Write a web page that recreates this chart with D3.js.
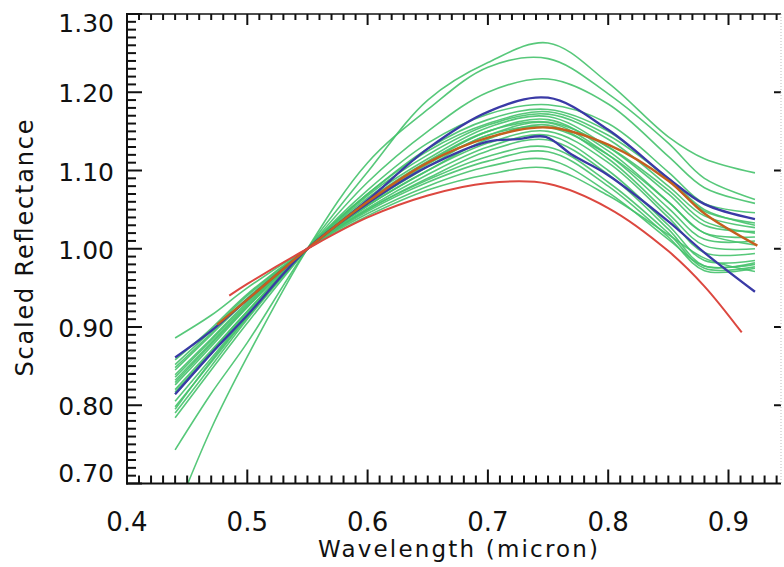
<!DOCTYPE html>
<html><head><meta charset="utf-8">
<script src="https://cdn.jsdelivr.net/npm/d3@7"></script>
<style>html,body{margin:0;padding:0;background:#fff;} svg{display:block;}</style>
</head><body><svg id="chart" width="784" height="567"></svg>
<script>
// ---------- data ----------
const WAVELENGTHS = [0.44, 0.47, 0.50, 0.55, 0.60, 0.65, 0.70, 0.75, 0.80, 0.85, 0.88, 0.922];

const GREEN_CURVES = [
  [0.743, 0.815, 0.880, 1.0, 1.098, 1.190, 1.238, 1.263, 1.212, 1.143, 1.115, 1.097],
  [0.660, 0.770, 0.862, 1.0, 1.110, 1.178, 1.232, 1.243, 1.198, 1.135, 1.090, 1.063],
  [0.784, 0.845, 0.905, 1.0, 1.085, 1.150, 1.200, 1.217, 1.185, 1.118, 1.078, 1.058],
  [0.790, 0.850, 0.910, 1.0, 1.075, 1.135, 1.172, 1.184, 1.160, 1.098, 1.058, 1.046],
  [0.798, 0.855, 0.912, 1.0, 1.070, 1.128, 1.165, 1.178, 1.150, 1.088, 1.048, 1.033],
  [0.805, 0.860, 0.915, 1.0, 1.068, 1.120, 1.158, 1.172, 1.140, 1.080, 1.042, 1.027],
  [0.814, 0.866, 0.918, 1.0, 1.065, 1.115, 1.155, 1.169, 1.130, 1.070, 1.030, 1.022],
  [0.820, 0.870, 0.920, 1.0, 1.060, 1.110, 1.150, 1.165, 1.125, 1.060, 1.020, 1.015],
  [0.826, 0.875, 0.925, 1.0, 1.058, 1.108, 1.145, 1.161, 1.120, 1.052, 1.012, 1.010],
  [0.832, 0.880, 0.928, 1.0, 1.055, 1.100, 1.140, 1.158, 1.115, 1.045, 1.004, 1.000],
  [0.836, 0.883, 0.930, 1.0, 1.055, 1.100, 1.135, 1.150, 1.110, 1.040, 0.995, 0.994],
  [0.839, 0.885, 0.932, 1.0, 1.052, 1.095, 1.130, 1.145, 1.100, 1.030, 0.985, 0.985],
  [0.845, 0.890, 0.935, 1.0, 1.050, 1.090, 1.125, 1.139, 1.095, 1.025, 0.978, 0.982],
  [0.848, 0.892, 0.937, 1.0, 1.050, 1.088, 1.118, 1.130, 1.085, 1.020, 0.975, 0.977],
  [0.852, 0.895, 0.940, 1.0, 1.048, 1.085, 1.112, 1.124, 1.080, 1.015, 0.972, 0.975],
  [0.858, 0.898, 0.942, 1.0, 1.045, 1.080, 1.105, 1.114, 1.072, 1.012, 0.978, 0.980],
  [0.886, 0.915, 0.950, 1.0, 1.042, 1.075, 1.095, 1.103, 1.068, 1.018, 0.988, 0.971],
  [0.817, 0.868, 0.920, 1.0, 1.062, 1.112, 1.150, 1.162, 1.130, 1.075, 1.035, 1.020],
  [0.829, 0.878, 0.926, 1.0, 1.057, 1.105, 1.145, 1.155, 1.120, 1.060, 1.020, 1.005],
  [0.795, 0.857, 0.913, 1.0, 1.070, 1.125, 1.160, 1.175, 1.145, 1.090, 1.050, 1.030]
];

const BLUE_UPPER = [0.861, 0.895, 0.935, 1.0, 1.062, 1.128, 1.175, 1.193, 1.152, 1.090, 1.057, 1.038];
const BLUE_LOWER_WAVELENGTHS = [0.44, 0.47, 0.50, 0.55, 0.60, 0.65, 0.70, 0.725, 0.748, 0.77, 0.80, 0.85, 0.88, 0.922];
const BLUE_LOWER             = [0.814, 0.866, 0.915, 1.0, 1.058, 1.105, 1.137, 1.140, 1.143, 1.120, 1.094, 1.035, 0.995, 0.945];

const ORANGE_WAVELENGTHS = [0.475, 0.50, 0.55, 0.60, 0.65, 0.70, 0.75, 0.80, 0.85, 0.88, 0.924];
const ORANGE_CURVE       = [0.903, 0.935, 1.0, 1.060, 1.110, 1.142, 1.155, 1.133, 1.087, 1.045, 1.004];

const RED_WAVELENGTHS = [0.485, 0.50, 0.55, 0.60, 0.65, 0.70, 0.75, 0.80, 0.85, 0.88, 0.911];
const RED_CURVE       = [0.940, 0.955, 1.0, 1.040, 1.068, 1.084, 1.083, 1.052, 0.997, 0.952, 0.893];

const X_TICKS = [0.4, 0.5, 0.6, 0.7, 0.8, 0.9];
const X_TICK_LABELS = ["0.4", "0.5", "0.6", "0.7", "0.8", "0.9"];
const Y_TICKS = [0.7, 0.8, 0.9, 1.0, 1.1, 1.2, 1.3];
const Y_TICK_LABELS = ["0.70", "0.80", "0.90", "1.00", "1.10", "1.20", "1.30"];
const X_TITLE = "Wavelength (micron)";
const Y_TITLE = "Scaled Reflectance";

// ---------- layout ----------
const L = 127, R = 781, T = 14, B = 483.5;
const svg = d3.select("#chart");
const x = d3.scaleLinear().domain([0.4, 0.9]).range([L, 728.5]);
const xMax = x.invert(R);
const y = d3.scaleLinear().domain([0.7, 1.3]).range([B, T]);

const minorXVals = [];
for (let i = 41; i < 100; i++) { if (i % 10 !== 0 && i / 100 <= xMax) minorXVals.push(i / 100); }
const minorYVals = [];
for (let i = 71; i < 130; i++) { if (i % 10 !== 0) minorYVals.push(i / 100); }

const FONT = "'DejaVu Sans', 'Liberation Sans', sans-serif";
const INK = "#111";

svg.append("defs").append("clipPath").attr("id", "plotclip")
  .append("rect").attr("x", L).attr("y", T).attr("width", R - L).attr("height", B - T);

// ---------- curves ----------
const line = d3.line()
  .x(d => x(d[0])).y(d => y(d[1]))
  .curve(d3.curveCatmullRom.alpha(0.5));

const plot = svg.append("g").attr("clip-path", "url(#plotclip)");
const pair = (wl, vals) => wl.map((w, i) => [w, vals[i]]);

plot.selectAll("path.green").data(GREEN_CURVES).enter().append("path")
  .attr("class", "green")
  .attr("d", c => line(pair(WAVELENGTHS, c)))
  .attr("fill", "none").attr("stroke", "#45c26c").attr("stroke-width", 1.6)
  .attr("stroke-opacity", 0.9);

plot.append("path").attr("d", line(pair(WAVELENGTHS, BLUE_UPPER)))
  .attr("fill", "none").attr("stroke", "#3a3aa6").attr("stroke-width", 2.3);
plot.append("path").attr("d", line(pair(BLUE_LOWER_WAVELENGTHS, BLUE_LOWER)))
  .attr("fill", "none").attr("stroke", "#3a3aa6").attr("stroke-width", 2.3);

plot.append("path").attr("d", line(pair(ORANGE_WAVELENGTHS, ORANGE_CURVE)))
  .attr("fill", "none").attr("stroke", "#c4601e").attr("stroke-width", 2.4);

plot.append("path").attr("d", line(pair(RED_WAVELENGTHS, RED_CURVE)))
  .attr("fill", "none").attr("stroke", "#dc4840").attr("stroke-width", 2);

// ---------- ticks (drawn from the scales) ----------
const tickLayer = svg.append("g");
function vTicks(vals, y0, len, cls) {
  tickLayer.selectAll("line." + cls).data(vals).join("line")
    .attr("class", cls)
    .attr("x1", d => x(d)).attr("x2", d => x(d)).attr("y1", y0).attr("y2", y0 + len)
    .attr("stroke", INK).attr("stroke-width", 2);
}
function hTicks(vals, x0, len, cls) {
  tickLayer.selectAll("line." + cls).data(vals).join("line")
    .attr("class", cls)
    .attr("y1", d => y(d)).attr("y2", d => y(d)).attr("x1", x0).attr("x2", x0 + len)
    .attr("stroke", INK).attr("stroke-width", 2);
}
vTicks(X_TICKS, B, -14, "xb-major");
vTicks(minorXVals, B, -8, "xb-minor");
vTicks(X_TICKS, T, 11, "xt-major");
vTicks(minorXVals, T, 6, "xt-minor");
hTicks(Y_TICKS, L, 15, "yl-major");
hTicks(minorYVals, L, 9, "yl-minor");
hTicks(Y_TICKS.filter(v => v > 0.71 && v < 1.29), R, -7, "yr-major");

// tick labels
svg.append("g").selectAll("text").data(X_TICKS).enter().append("text")
  .attr("x", d => x(d)).attr("y", 531).attr("text-anchor", "middle")
  .attr("font-family", FONT).attr("font-size", 26).attr("fill", INK)
  .text((d, i) => X_TICK_LABELS[i]);
svg.append("g").selectAll("text").data(Y_TICKS).enter().append("text")
  .attr("x", 114).attr("y", d => y(d))
  .attr("dy", d => d >= 1.29 ? "0.72em" : (d <= 0.71 ? "-0.05em" : "0.4em"))
  .attr("text-anchor", "end")
  .attr("font-family", FONT).attr("font-size", 25).attr("fill", INK)
  .text((d, i) => Y_TICK_LABELS[i]);

// frame lines
svg.append("line").attr("x1", L).attr("x2", L).attr("y1", T - 1).attr("y2", B + 1)
  .attr("stroke", INK).attr("stroke-width", 2);
svg.append("line").attr("x1", L - 1).attr("x2", R).attr("y1", B).attr("y2", B)
  .attr("stroke", INK).attr("stroke-width", 2);
svg.append("line").attr("x1", L - 1).attr("x2", R).attr("y1", T).attr("y2", T)
  .attr("stroke", INK).attr("stroke-width", 1.6);
svg.append("line").attr("x1", R).attr("x2", R).attr("y1", T).attr("y2", B)
  .attr("stroke", "#bbb").attr("stroke-width", 1).attr("stroke-dasharray", "1,2");

// titles
svg.append("text").attr("x", 458).attr("y", 557).attr("text-anchor", "middle")
  .attr("font-family", FONT).attr("font-size", 23).attr("fill", INK)
  .attr("textLength", 280).attr("lengthAdjust", "spacing").text(X_TITLE);
svg.append("text").attr("transform", "translate(33,248) rotate(-90)").attr("text-anchor", "middle")
  .attr("font-family", FONT).attr("font-size", 24).attr("fill", INK)
  .attr("textLength", 257).attr("lengthAdjust", "spacing").text(Y_TITLE);
</script>
</body></html>
